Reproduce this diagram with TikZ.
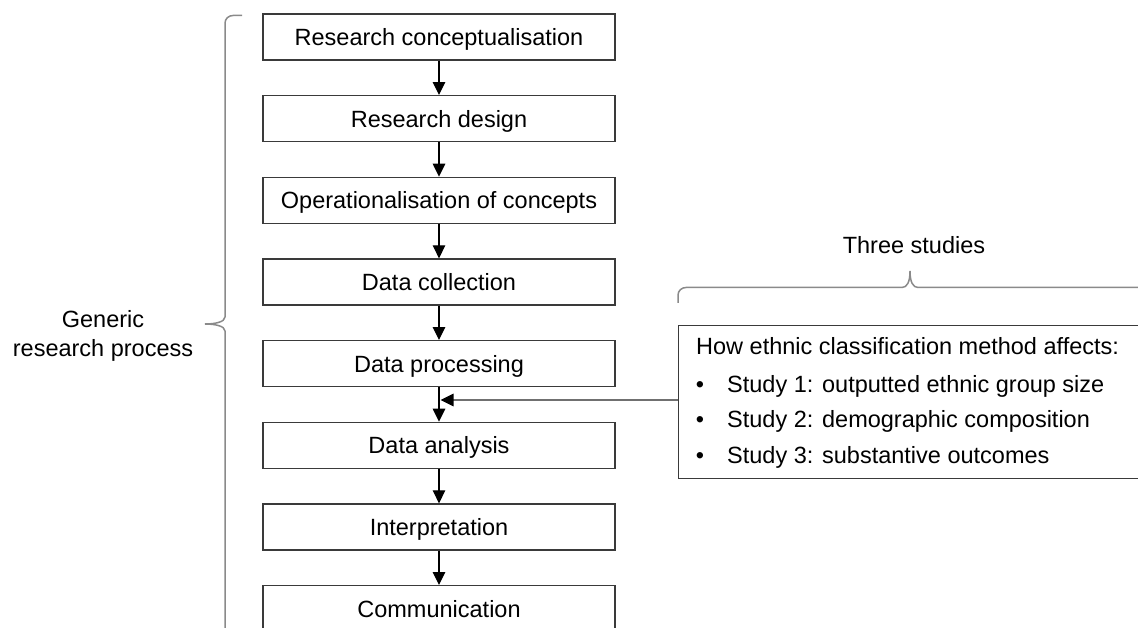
\documentclass[tikz,border=0pt]{standalone}
\usepackage{fontspec}
\setmainfont{Liberation Sans}
\usetikzlibrary{arrows.meta}
\definecolor{boxline}{HTML}{3A3A3A}
\definecolor{braceline}{HTML}{8A8A8A}
\definecolor{feedline}{HTML}{707070}
\begin{document}
\begin{tikzpicture}[x=1pt,y=-1pt,
  stepbox/.style={draw=boxline,line width=1.3pt,minimum width=352pt,minimum height=46pt,
    inner sep=0pt,text height=19pt,text depth=2.2pt,font=\fontsize{23.5}{28}\selectfont},
  flow/.style={draw=black,line width=1.2pt,-{Triangle[width=12.5pt,length=13pt]}},
  brace/.style={draw=braceline,line width=1.5pt},
  label/.style={font=\fontsize{23.5}{28.5}\selectfont,inner sep=0pt},
]
\useasboundingbox (0,0) rectangle (1138,628);
\clip (0,0) rectangle (1138,628);

% generic research process steps
\node[stepbox] (s1) at (439,37)      {Research conceptualisation};
\node[stepbox] (s2) at (439,118.67)  {Research design};
\node[stepbox] (s3) at (439,200.33)  {Operationalisation of concepts};
\node[stepbox] (s4) at (439,282)     {Data collection};
\node[stepbox] (s5) at (439,363.67)  {Data processing};
\node[stepbox] (s6) at (439,445.33)  {Data analysis};
\node[stepbox] (s7) at (439,527)     {Interpretation};
\node[stepbox] (s8) at (439,608.67)  {Communication};

\foreach \a/\b in {s1/s2,s2/s3,s3/s4,s4/s5,s5/s6,s6/s7,s7/s8}
  \draw[flow] (\a.south) -- (\b.north);

% left brace and its label
\draw[brace] (242,15.5) -- (233,15.5) to[out=180,in=90] (225,23) -- (225,317)
  .. controls (225,322) and (215,324) .. (205,324)
  .. controls (215,324) and (225,326) .. (225,331) -- (225,640);
\node[label,align=center] (generic) at (103,336) {Generic\\research process};

% box with the three studies
\node[draw=boxline,line width=1.3pt,anchor=north west,minimum width=520pt,
  minimum height=153pt,inner sep=0pt] (studies) at (678,325) {};
\node[label,anchor=base west] (t0) at (696,355) {How ethnic classification method affects:};
\node[label,anchor=base] (b1) at (700,392) {•};
\node[label,anchor=base west] (t1) at (727,392) {Study 1: outputted ethnic group size};
\node[label,anchor=base] (b2) at (700,427.5) {•};
\node[label,anchor=base west] (t2) at (727,427.5) {Study 2: demographic composition};
\node[label,anchor=base] (b3) at (700,463) {•};
\node[label,anchor=base west] (t3) at (727,463) {Study 3: substantive outcomes};

% brace over the studies and its label
\draw[brace] (678,303) -- (678,295) to[out=90,in=180] (686,287.5) -- (902,287.5)
  .. controls (907,287.5) and (910,282) .. (910,271)
  .. controls (910,282) and (913,287.5) .. (918,287.5) -- (1150,287.5);
\node[label] (three) at (914,245) {Three studies};

% studies feed into the step between processing and analysis
\coordinate (join) at (440.5,400);
\draw[draw=feedline,line width=1.2pt,-{Triangle[width=12.5pt,length=13pt,black]}]
  (join -| studies.west) -- (join);
\end{tikzpicture}
\end{document}
